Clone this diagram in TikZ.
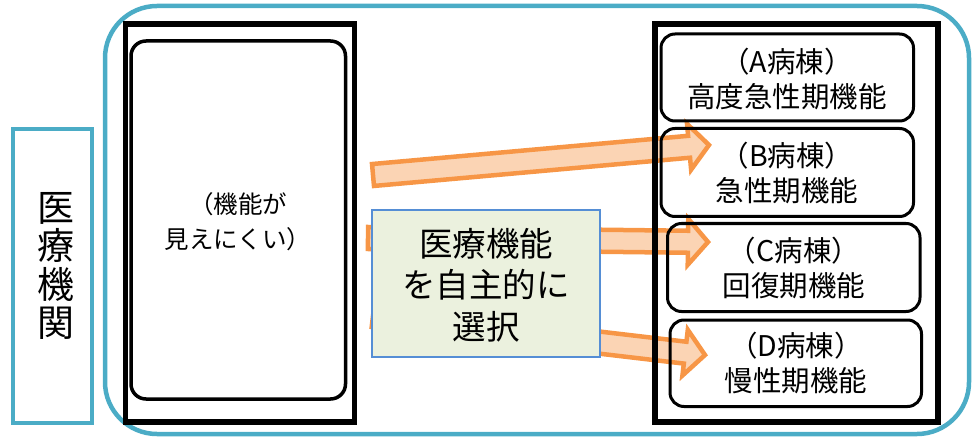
\documentclass[tikz,border=0pt]{standalone}
\usepackage{fontspec}
\setmainfont{Noto Sans CJK JP}
\usetikzlibrary{calc}
\definecolor{aqua}{HTML}{4BACC6}
\definecolor{arroworange}{HTML}{F79646}
\definecolor{arrowpeach}{HTML}{FBD4B4}
\definecolor{selfill}{HTML}{EBF1DE}
\definecolor{selline}{HTML}{558ED5}
\tikzset{
  aquabox/.style={draw=aqua, line width=4.5pt},
  blackframe/.style={draw=black, line width=5.5pt},
  innerround/.style={draw=black, line width=3.5pt, rounded corners=15pt},
  ward/.style={draw=black, line width=3pt, rounded corners=14pt},
  wardtext/.style={align=center, font=\fontsize{28.5}{35}\selectfont, inner sep=0pt},
  fatarrowstyle/.style={draw=arroworange, fill=arrowpeach, line width=4.5pt, line join=miter},
  selbox/.style={draw=selline, fill=selfill, line width=2pt},
}
\newcommand\fatarrowpath[2]{%
  \draw[fatarrowstyle] let \p1=($(#2)-(#1)$), \n1={atan2(\y1,\x1)}, \n2={veclen(\x1,\y1)} in
    [shift={(#1)}, rotate=\n1]
    (0pt,-11pt) -- (\n2-20pt,-11pt) -- (\n2-20pt,-23pt) -- (\n2,0pt) -- (\n2-20pt,23pt) -- (\n2-20pt,11pt) -- (0pt,11pt) -- cycle;
}
\begin{document}
\begin{tikzpicture}[x=1pt,y=-1pt]
\useasboundingbox (0,0) rectangle (973,438);
% outer rounded frame
\draw[aquabox, rounded corners=52pt] (105,6) rectangle (969,434);
\node (outer) at (537,220) {};
% organisation box
\node[aquabox, minimum width=79pt, minimum height=294pt, inner sep=0pt] (org) at (52.5,276) {};
\node[align=center, font=\fontsize{37}{38.5}\selectfont, inner sep=0pt] (orgtext) at (56,266) {医\\療\\機\\関};
% arrows (behind boxes)
\coordinate (t1) at (373,175);
\coordinate (h1) at (709,145);
\coordinate (t2) at (368,238);
\coordinate (h2) at (708,242);
\coordinate (t3) at (373,316);
\coordinate (h3) at (705,355);
\fatarrowpath{t1}{h1}
\fatarrowpath{t2}{h2}
\fatarrowpath{t3}{h3}
% left frame
\draw[blackframe] (125.5,24) rectangle (354.5,422);
\draw[innerround] (131,41) rectangle (345.5,399);
\node[align=center, font=\fontsize{24.5}{35}\selectfont, inner sep=0pt] (hidden) at (238,222) {（機能が\\見えにくい）};
% right frame
\draw[blackframe] (655,24) rectangle (938,422);
\draw[ward] (661,34) rectangle (913.5,121);
\node[wardtext] (A) at (787,79.5) {（A病棟）\\高度急性期機能};
\draw[ward] (661,128.5) rectangle (913.5,216.5);
\node[wardtext] (B) at (787,173) {（B病棟）\\急性期機能};
\draw[ward] (667.5,223.5) rectangle (920,311.5);
\node[wardtext] (C) at (794,268) {（C病棟）\\回復期機能};
\draw[ward] (670,320) rectangle (921.5,406.5);
\node[wardtext] (D) at (796,363) {（D病棟）\\慢性期機能};
% selection box
\draw[selbox] (372,210) rectangle (600,357);
\node[align=center, font=\fontsize{33.5}{41.5}\selectfont, inner sep=0pt] (sel) at (486,285) {医療機能\\を自主的に\\選択};
\end{tikzpicture}
\end{document}
